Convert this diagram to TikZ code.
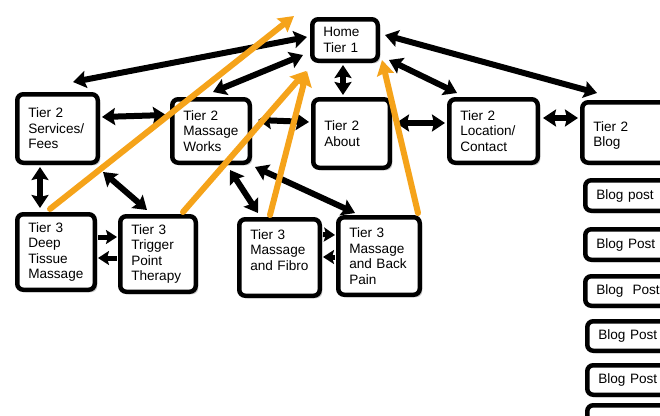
\documentclass[tikz,border=0pt]{standalone}
\usepackage{fontspec}
\setmainfont{Liberation Sans}
\usepackage{xcolor}
\usetikzlibrary{calc}
\usetikzlibrary{arrows.meta}
\usetikzlibrary{shadows}
\definecolor{linkorange}{HTML}{F5A31A}
\tikzset{
  tierbox/.style={draw, line width=4.5pt, rounded corners=6pt, fill=white,
    drop shadow={shadow xshift=2.5pt, shadow yshift=-2.5pt, fill=black!40},
    align=left, inner xsep=11pt, inner ysep=2pt,
    font=\fontsize{13.6}{15.5}\selectfont},
  twoway/.style={line width=6pt,
    {Stealth[length=13pt,width=17pt,inset=2pt]}-{Stealth[length=13pt,width=17pt,inset=2pt]}},
  oneway/.style={line width=5pt, -{Stealth[length=11pt,width=14pt,inset=2pt]}},
  uplink/.style={line width=6pt, linkorange, line cap=round,
    -{Stealth[length=15pt,width=17pt,inset=2pt]}}
}
\begin{document}
\begin{tikzpicture}[x=1pt,y=-1pt]
\useasboundingbox (0,0) rectangle (660,415);

% tier 1
\node[tierbox, text width=43.5pt, minimum height=41.5pt] (home) at (345,40) {Home\\Tier 1};

% tier 2
\node[tierbox, text width=58.5pt, minimum height=68.5pt] (services) at (57.5,128.5) {Tier 2\\Services/\\Fees};
\node[tierbox, text width=55.5pt, minimum height=63.5pt] (works) at (211,131) {Tier 2\\Massage\\Works};
\node[tierbox, text width=54.5pt, minimum height=68.5pt] (about) at (351.5,133.5) {Tier 2\\About};
\node[tierbox, text width=66.5pt, minimum height=63.5pt] (location) at (493.5,131) {Tier 2\\Location/\\Contact};
\node[tierbox, text width=73.5pt, minimum height=60.5pt] (blog) at (630,132.5) {\mbox{}\\Tier 2\\Blog};

% tier 3
\node[tierbox, text width=55.5pt, minimum height=75.5pt] (deep) at (56,252) {Tier 3\\Deep\\Tissue\\Massage};
\node[tierbox, text width=53.5pt, minimum height=75.5pt] (trigger) at (158,254) {Tier 3\\Trigger\\Point\\Therapy};
\node[tierbox, text width=58.5pt, minimum height=76.5pt] (fibro) at (279.5,257.5) {Tier 3\\Massage\\and Fibro\\\mbox{}};
\node[tierbox, text width=59.5pt, minimum height=77.5pt] (back) at (379,256) {Tier 3\\Massage\\and Back\\Pain};

% blog posts
\node[tierbox, text width=80.5pt, minimum height=30.5pt] (post1) at (636.5,195.5) {Blog post};
\node[tierbox, text width=80.5pt, minimum height=30.5pt] (post2) at (636.5,244.5) {Blog Post};
\node[tierbox, text width=80.5pt, minimum height=29.5pt] (post3) at (636.5,291) {Blog\ \ Post};
\node[tierbox, text width=78.5pt, minimum height=29.5pt] (post4) at (637.5,336) {Blog Post};
\node[tierbox, text width=78.5pt, minimum height=29.5pt] (post5) at (637.5,380) {Blog Post};
\node[tierbox, text width=78.5pt, minimum height=30.5pt] (post6) at (637.5,420.5) {};

% black links
\draw[twoway] ($(services.north)+(15.5,-10)$) -- ($(home.west)+(-3,-3)$);
\draw[twoway] ($(works.north)+(2,-5)$) -- ($(home.south west)+(-7,-8)$);
\draw[twoway] ($(home.south)+(-2,2)$) -- ($(about.north)+(-8.5,-2)$);
\draw[twoway] ($(home.east)+(5,-5)$) -- ($(blog.north)+(-33,-7)$);
\draw[twoway] ($(home.south east)+(9,-3)$) -- ($(location.north)+(-36.5,-4)$);
\draw[twoway] ($(services.east)+(2,-11.5)$) -- ($(works.west)+(-4,-16)$);
\draw[twoway] ($(works.east)+(6,-11)$) -- ($(about.west)+(-2,-11.5)$);
\draw[twoway] ($(about.east)+(4,-10.5)$) -- ($(location.west)+(-2,-8)$);
\draw[twoway] ($(location.east)+(3,-13)$) -- ($(blog.west)+(-2,-14.5)$);
\draw[twoway] ($(services.south)+(-17.5,2)$) -- ($(deep.north)+(-16,-4)$);
\draw[twoway] ($(services.south east)+(3,7)$) -- ($(trigger.north)+(-11,-4)$);
\draw[twoway] ($(works.south)+(19,5)$) -- ($(fibro.north)+(-21.5,-4)$);
\draw[twoway] ($(works.south east)+(3,2)$) -- ($(back.north)+(-24,-2)$);
\draw[oneway] ($(deep.east)+(1,-15)$) -- ($(trigger.west)+(-1,-17)$);
\draw[oneway] ($(trigger.west)+(-1,4)$) -- ($(deep.east)+(1,6)$);
\draw[oneway] ($(fibro.east)+(1,-23)$) -- ($(back.west)+(-1,-21)$);
\draw[oneway] ($(back.west)+(-1,1)$) -- ($(fibro.east)+(1,-0.5)$);

% orange links up to home
\draw[uplink] ($(deep.north)+(-6,-3)$) -- ($(home.north west)+(-16,-1)$);
\draw[uplink] ($(trigger.north)+(25,-2)$) -- ($(home.south west)+(-4,8)$);
\draw[uplink] ($(fibro.north)+(-9.5,-2)$) -- ($(home.south west)+(-3,8)$);
\draw[uplink] ($(back.north)+(39,-2)$) -- ($(home.south east)+(2,-3)$);
\end{tikzpicture}
\end{document}
